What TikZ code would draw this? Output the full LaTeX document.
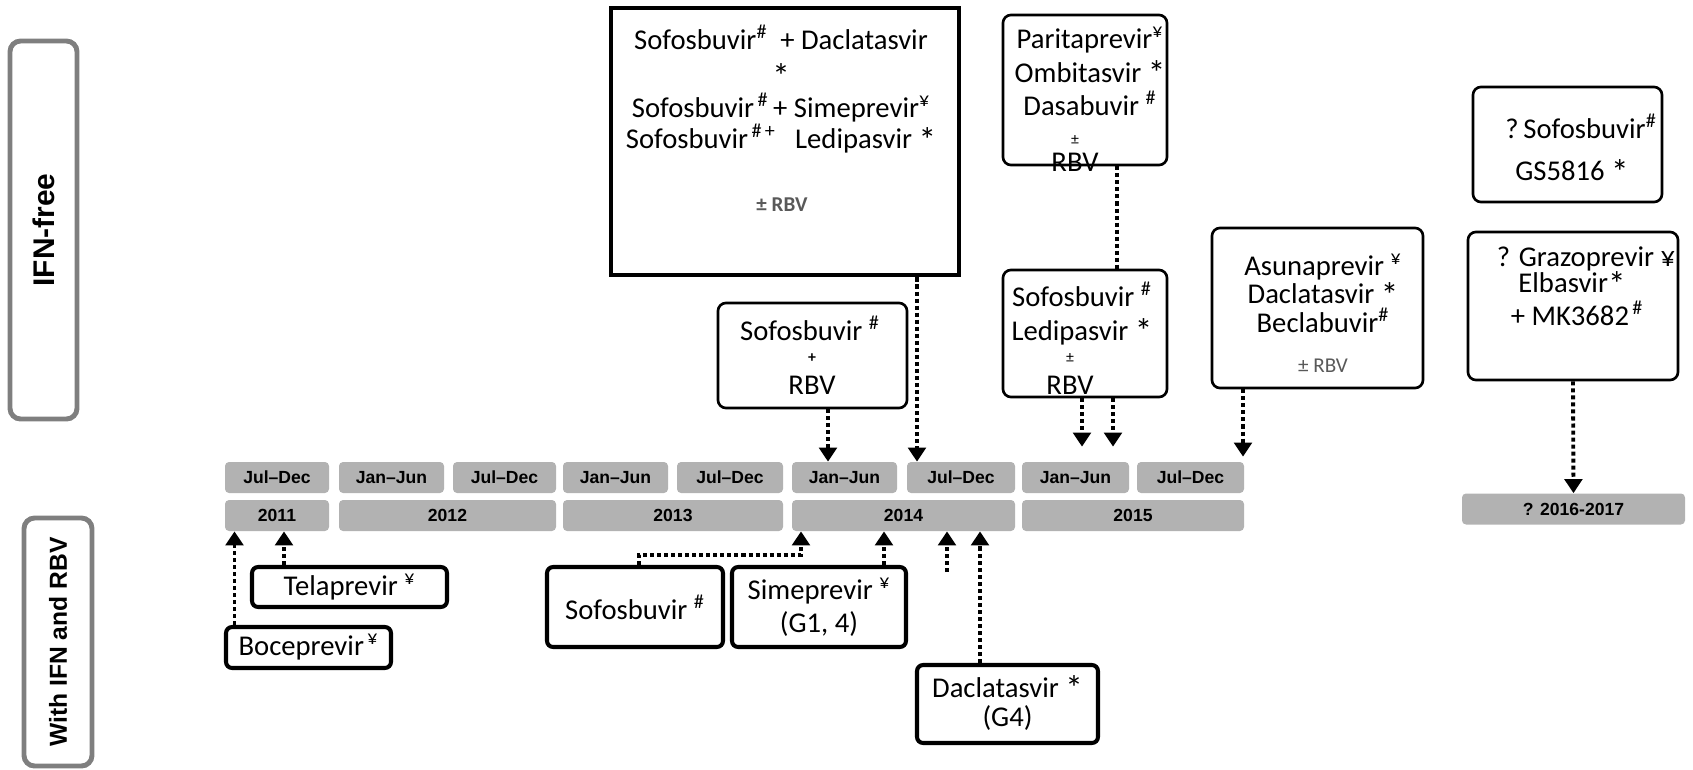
\documentclass[tikz,border=0pt]{standalone}
\usepackage{fontspec}
\setmainfont{Carlito}
\newfontfamily\arialfont{Liberation Sans}
\usepackage{xcolor}
\definecolor{slotgray}{HTML}{B2B2B2}
\definecolor{sidegray}{HTML}{7F7F7F}
\definecolor{notegray}{HTML}{595959}
\usetikzlibrary{arrows.meta,positioning,calc}
\newcommand{\drugfont}{\fontsize{16.3}{17}\selectfont}
\newcommand{\slotfont}{\arialfont\bfseries\fontsize{10}{12}\selectfont}
\newcommand{\bigast}{\smash{\raisebox{-2pt}{\fontsize{20}{20}\selectfont *}}}

\begin{document}
\begin{tikzpicture}[
  x=0.2mm, y=-0.2mm,
  font=\drugfont,
  slot/.style={fill=slotgray,rounded corners=2.3pt,inner sep=0pt,
    minimum height=6.2mm,font=\slotfont},
  sidebox/.style={draw=sidegray,line width=2.8pt,rounded corners=6pt,
    inner sep=0pt,rotate=90,font=\arialfont\bfseries},
  bigbox/.style={draw,line width=2.8pt,inner sep=0pt},
  drugbox/.style={draw,line width=1.5pt,rounded corners=4.5pt,inner sep=0pt},
  ifnbox/.style={draw,line width=2.3pt,rounded corners=3.5pt,
    inner sep=0pt,align=center},
  txt/.style={inner sep=0pt,align=center},
  note/.style={inner sep=0pt,text=notegray},
  dotline/.style={line width=2.2pt,dash pattern=on 2.3pt off 1.7pt},
  arr/.style={dotline,-{Triangle[width=10pt,length=8pt]}}
]
  \useasboundingbox (0,0) rectangle (1693,770);
  % Side labels
  \node[sidebox,minimum width=75.6mm,minimum height=13.4mm,
    font=\arialfont\bfseries\fontsize{17}{20}\selectfont] (ifnfree) at (43.5,230) {IFN-free};
  \node[sidebox,minimum width=49.6mm,minimum height=13.6mm,
    font=\arialfont\bfseries\fontsize{14}{16}\selectfont] (withifn) at (58,642) {With IFN and RBV};
  % Half-year row
  \node[slot,minimum width=20.8mm] (h1) at (277,477.5)    {Jul–Dec};
  \node[slot,minimum width=21mm]   (h2) at (391.5,477.5)  {Jan–Jun};
  \node[slot,minimum width=20.6mm] (h3) at (504.5,477.5)  {Jul–Dec};
  \node[slot,minimum width=21mm]   (h4) at (615.5,477.5)  {Jan–Jun};
  \node[slot,minimum width=21.2mm] (h5) at (730,477.5)    {Jul–Dec};
  \node[slot,minimum width=21mm]   (h6) at (844.5,477.5)  {Jan–Jun};
  \node[slot,minimum width=21.6mm] (h7) at (961,477.5)    {Jul–Dec};
  \node[slot,minimum width=21.4mm] (h8) at (1075.5,477.5) {Jan–Jun};
  \node[slot,minimum width=21.4mm] (h9) at (1190.5,477.5) {Jul–Dec};
  % Year row
  \node[slot,minimum width=20.8mm] (y11) at (277,515.5)    {2011};
  \node[slot,minimum width=43.4mm] (y12) at (447.5,515.5)  {2012};
  \node[slot,minimum width=44mm]   (y13) at (673,515.5)    {2013};
  \node[slot,minimum width=44.6mm] (y14) at (903.5,515.5)  {2014};
  \node[slot,minimum width=44.4mm] (y15) at (1133,515.5)   {2015};
  \node[slot,minimum width=44.6mm] (y16) at (1573.5,509)   {? 2016-2017};
  % IFN-free regimens
  \node[bigbox,minimum width=69.6mm,minimum height=53.4mm] (sofdac) at (785,141.5) {};
  \node[txt,font=\fontsize{16.3}{17.5}\selectfont] (sofdac-t) at (781,89)
    {Sofosbuvir\textsuperscript{\#}\ \ + Daclatasvir\\ \raisebox{-3pt}{\bigast}\\[4pt]
     Sofosbuvir\textsuperscript{\,\#}\,+ Simeprevir\textsuperscript{¥}\\
     Sofosbuvir\textsuperscript{\,\#\,+}\ \ \ Ledipasvir \bigast};
  \node[note,font=\bfseries\fontsize{12}{14}\selectfont] (sofdac-r) at (782,205) {± RBV};

  \node[drugbox,minimum width=37.8mm,minimum height=21mm] (sofrbv) at (812.5,355.5) {};
  \node[txt] (sofrbv-t) at (810,328) {Sofosbuvir \textsuperscript{\#}};
  \node[txt,font=\bfseries\fontsize{9}{10}\selectfont] (sofrbv-pl) at (812,358) {+};
  \node[txt] (sofrbv-rbv) at (812,385) {RBV};

  \node[drugbox,minimum width=32.8mm,minimum height=30mm] (parita) at (1085,90) {};
  \node[txt,font=\fontsize{16.3}{19}\selectfont] (parita-t) at (1090,71.5)
    {Paritaprevir\textsuperscript{¥}\\ Ombitasvir \bigast\\ Dasabuvir \textsuperscript{\#}};
  \node[txt,font=\fontsize{9}{10}\selectfont] (parita-pm) at (1075,140) {±};
  \node[txt] (parita-rbv) at (1075,162) {RBV};

  \node[drugbox,minimum width=32.8mm,minimum height=25.4mm] (sofled) at (1085,333.5) {};
  \node[txt,font=\fontsize{16.3}{19}\selectfont] (sofled-t) at (1082,313.5)
    {Sofosbuvir \textsuperscript{\#}\\ Ledipasvir \bigast};
  \node[txt,font=\fontsize{9}{10}\selectfont] (sofled-pm) at (1070,358) {±};
  \node[txt] (sofled-rbv) at (1070,385) {RBV};

  \node[drugbox,minimum width=42.2mm,minimum height=32mm] (asuna) at (1317.5,308) {};
  \node[txt,font=\fontsize{16.3}{16.2}\selectfont] (asuna-t) at (1323,293)
    {Asunaprevir \textsuperscript{¥}\\ Daclatasvir \bigast\\ Beclabuvir\textsuperscript{\#}};
  \node[note,font=\fontsize{12}{14}\selectfont] (asuna-r) at (1323,366) {± RBV};

  \node[drugbox,minimum width=37.8mm,minimum height=23mm] (sofgs) at (1567.5,144.5) {};
  \node[txt] (sofgs-t1) at (1581,126) {?\,Sofosbuvir\textsuperscript{\#}};
  \node[txt] (sofgs-t2) at (1572,171) {GS5816 \bigast};

  \node[drugbox,minimum width=42mm,minimum height=29.6mm] (grazo) at (1573,306) {};
  \node[txt] (grazo-t1) at (1586,259) {? Grazoprevir ¥};
  \node[txt] (grazo-t2) at (1572,283) {Elbasvir\bigast};
  \node[txt] (grazo-t3) at (1577,313) {+ MK3682\textsuperscript{\,\#}};
  % Regimens with IFN and RBV
  \node[ifnbox,minimum width=39mm,minimum height=8mm] (telap) at (349.5,587) {Telaprevir \textsuperscript{¥}};
  \node[ifnbox,minimum width=33mm,minimum height=8.2mm] (bocep) at (308.5,647.5) {Boceprevir\textsuperscript{\,¥}};
  \node[ifnbox,minimum width=35.2mm,minimum height=16mm] (sofos) at (635,607) {Sofosbuvir \textsuperscript{\#}};
  \node[ifnbox,minimum width=34.8mm,minimum height=16mm] (simep) at (819,607)
    {Simeprevir \textsuperscript{¥}\\[2pt] (G1, 4)};
  \node[ifnbox,minimum width=36.2mm,minimum height=15.6mm] (daclat) at (1007.5,704)
    {Daclatasvir \bigast\\ (G4)};
  \coordinate (stub) at (947,572);
  % Arrows down
  \draw[arr] ([xshift=3.1mm]sofrbv.south) -- ([xshift=3.1mm]sofrbv.south |- h6.north);
  \draw[arr] ([xshift=26.4mm]sofdac.south) -- ([xshift=26.4mm]sofdac.south |- h7.north);
  \draw[dotline] ([xshift=6.4mm]parita.south) -- ([xshift=6.4mm]parita.south |- sofled.north);
  \draw[arr,shorten >=3mm] ([xshift=-0.6mm]sofled.south) -- ([xshift=-0.6mm]sofled.south |- h8.north);
  \draw[arr,shorten >=3mm] ([xshift=5.6mm]sofled.south) -- ([xshift=5.6mm]sofled.south |- h8.north);
  \draw[arr,shorten >=1mm] ([xshift=-14.9mm]asuna.south) -- ([xshift=-14.9mm]asuna.south |- h9.north);
  \draw[arr] (grazo.south) -- (y16.north);
  % Arrows up
  \draw[arr] ([xshift=-14.8mm]bocep.north) -- ([xshift=-14.8mm]bocep.north |- y11.south);
  \draw[arr] ([xshift=-13.1mm]telap.north) -- ([xshift=-13.1mm]telap.north |- y11.south);
  \draw[arr] ([xshift=0.8mm]sofos.north) -- ++(0,-10) -| ([xshift=-20.5mm]y14.south);
  \draw[arr] ([xshift=13mm]simep.north) -- ([xshift=13mm]simep.north |- y14.south);
  \draw[arr] (stub) -- (stub |- y14.south);
  \draw[arr] ([xshift=-5.5mm]daclat.north) -- ([xshift=-5.5mm]daclat.north |- y14.south);
\end{tikzpicture}
\end{document}
